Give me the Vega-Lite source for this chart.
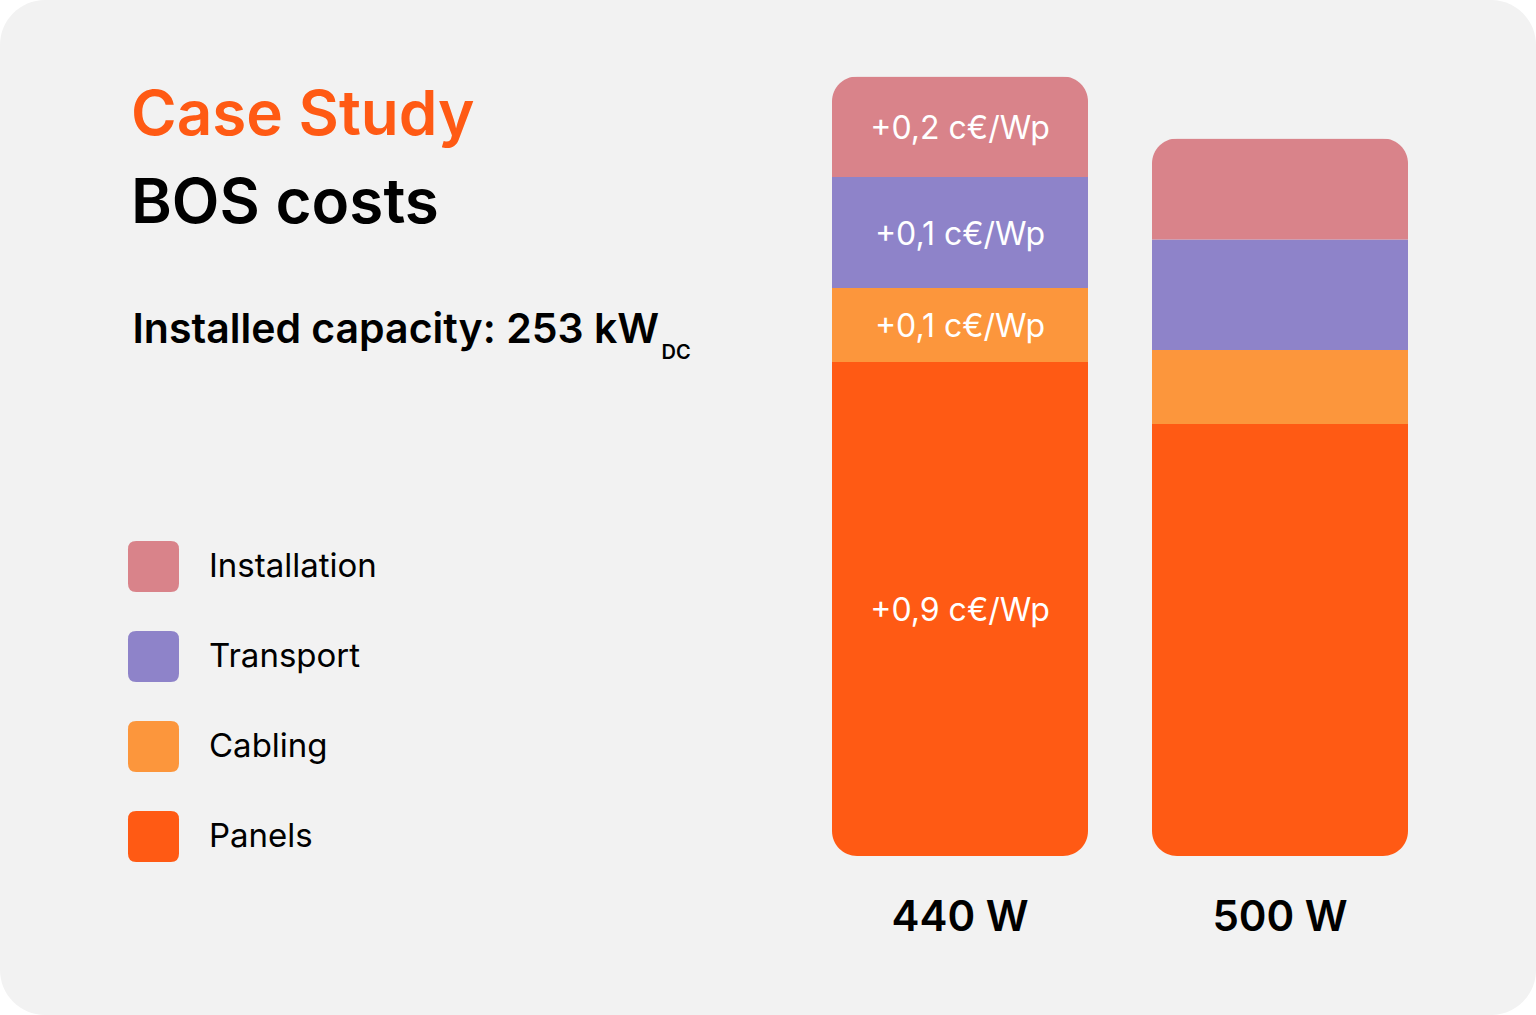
{
  "$schema": "https://vega.github.io/schema/vega-lite/v6.json",
  "width": 1536,
  "height": 1015,
  "autosize": {"type": "none"},
  "padding": 0,
  "background": "#ffffff",
  "config": {
    "view": {"fill": "#f2f2f2", "stroke": null, "cornerRadius": 45},
    "font": "Inter"
  },
  "title": {
    "text": "Case Study",
    "subtitle": "BOS costs",
    "anchor": "start",
    "frame": "group",
    "orient": "top",
    "dx": 131,
    "dy": 240,
    "fontSize": 62,
    "fontWeight": 600,
    "color": "#ff5a14",
    "subtitleFontSize": 62,
    "subtitleFontWeight": 600,
    "subtitleColor": "#000000",
    "subtitlePadding": 26,
    "offset": 4
  },
  "datasets": {
    "costs": [
      {"module": "440 W", "component": "Panels", "rank": 1, "cost": 4.94, "label": "+0,9 c€/Wp"},
      {"module": "440 W", "component": "Cabling", "rank": 2, "cost": 0.74, "label": "+0,1 c€/Wp"},
      {"module": "440 W", "component": "Transport", "rank": 3, "cost": 1.11, "label": "+0,1 c€/Wp"},
      {"module": "440 W", "component": "Installation", "rank": 4, "cost": 1.005, "label": "+0,2 c€/Wp"},
      {"module": "500 W", "component": "Panels", "rank": 1, "cost": 4.32, "label": null},
      {"module": "500 W", "component": "Cabling", "rank": 2, "cost": 0.74, "label": null},
      {"module": "500 W", "component": "Transport", "rank": 3, "cost": 1.105, "label": null},
      {"module": "500 W", "component": "Installation", "rank": 4, "cost": 1.01, "label": null}
    ]
  },
  "data": {"name": "costs"},
  "encoding": {
    "x": {
      "field": "module",
      "type": "nominal",
      "sort": ["440 W", "500 W"],
      "scale": {"domain": ["440 W", "500 W"], "range": [832, 1408], "paddingInner": 0.2, "paddingOuter": 0},
      "axis": {
        "orient": "bottom",
        "offset": -159,
        "domain": false,
        "ticks": false,
        "tickSize": 0,
        "grid": false,
        "labelAngle": 0,
        "labelFont": "Inter",
        "labelFontSize": 42,
        "labelFontWeight": 600,
        "labelColor": "#000000",
        "labelBaseline": "alphabetic",
        "labelPadding": 74,
        "title": "DC",
        "titleFont": "Inter",
        "titleFontSize": 20,
        "titleFontWeight": 600,
        "titleColor": "#000000",
        "titleAlign": "left",
        "titleBaseline": "alphabetic",
        "titleAngle": 0,
        "titleX": 661,
        "titleY": -498
      }
    }
  },
  "layer": [
    {
      "mark": {"type": "bar", "cornerRadius": 25},
      "encoding": {
        "y": {
          "field": "cost",
          "type": "quantitative",
          "stack": "zero",
          "scale": {"domain": [0, 7.8], "range": [856, 76], "nice": false, "zero": false},
          "axis": {
            "orient": "left",
            "domain": false,
            "ticks": false,
            "labels": false,
            "grid": false,
            "title": "Installed capacity: 253 kW",
            "titleFont": "Inter",
            "titleFontSize": 41,
            "titleFontWeight": 600,
            "titleColor": "#000000",
            "titleAngle": 0,
            "titleAlign": "left",
            "titleBaseline": "alphabetic",
            "titleX": 132,
            "titleY": 342
          }
        },
        "color": {
          "field": "component",
          "type": "nominal",
          "scale": {
            "domain": ["Installation", "Transport", "Cabling", "Panels"],
            "range": ["#d9838a", "#8e83c9", "#fc963c", "#ff5a14"]
          },
          "legend": {
            "orient": "none",
            "legendX": 128,
            "legendY": 541,
            "title": null,
            "padding": 0,
            "symbolType": "M -0.68 -1 L 0.68 -1 Q 1 -1 1 -0.68 L 1 0.68 Q 1 1 0.68 1 L -0.68 1 Q -1 1 -1 0.68 L -1 -0.68 Q -1 -1 -0.68 -1 Z",
            "symbolSize": 2601,
            "symbolStrokeWidth": 0,
            "symbolOpacity": 1,
            "labelFont": "Inter",
            "labelFontSize": 33,
            "labelFontWeight": 400,
            "labelColor": "#000000",
            "labelOffset": 30,
            "rowPadding": 39,
            "labelLimit": 400
          }
        },
        "order": {"field": "rank", "type": "quantitative", "sort": "ascending"}
      }
    },
    {
      "transform": [
        {"filter": "datum.label != null"},
        {"stack": "cost", "groupby": ["module"], "sort": [{"field": "rank", "order": "ascending"}], "as": ["lo", "hi"]},
        {"fold": ["lo", "hi"], "as": ["edge", "value"]}
      ],
      "mark": {"type": "text", "baseline": "middle", "align": "center", "color": "#ffffff", "fontSize": 32, "fontWeight": 400, "font": "Inter", "dy": 2},
      "encoding": {
        "y": {"aggregate": "mean", "field": "value", "type": "quantitative", "stack": null},
        "text": {"field": "label", "type": "nominal"},
        "detail": {"field": "component", "type": "nominal"}
      }
    }
  ]
}
